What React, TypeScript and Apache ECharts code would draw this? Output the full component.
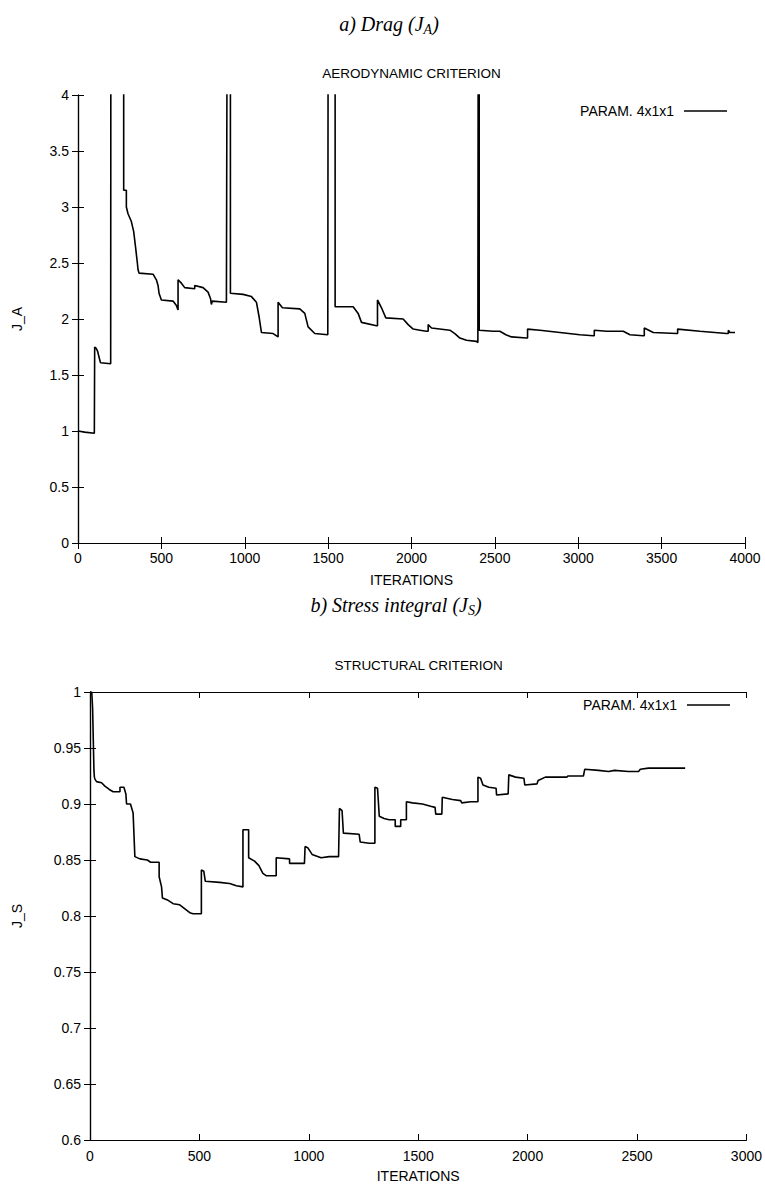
import React, { useEffect, useRef } from "react";
import * as echarts from "echarts";

// ---------- DATA ----------
const dragIterations = [
  0, 40, 98, 100, 108, 118, 126, 135, 196, 197, 274, 274, 290, 290, 300, 320, 334, 346, 356, 360, 366, 450, 470, 480, 486, 500, 570, 590, 600, 600, 620, 640, 700, 700, 750, 780, 795, 800, 805, 890, 894, 914, 914, 990, 1040, 1070, 1086, 1100, 1170, 1200, 1200, 1226, 1330, 1360, 1380, 1420, 1498, 1500, 1542, 1542, 1650, 1680, 1700, 1790, 1796, 1796, 1820, 1846, 1950, 1980, 2010, 2050, 2090, 2100, 2100, 2120, 2230, 2260, 2290, 2330, 2390, 2398, 2400, 2406, 2406, 2490, 2530, 2566, 2600, 2690, 2696, 2696, 2770, 2890, 3010, 3090, 3096, 3096, 3170, 3270, 3310, 3390, 3396, 3396, 3450, 3590, 3596, 3596, 3730, 3890, 3900, 3900, 3910, 3940,
];
const dragValues = [
  1.0, 0.99, 0.98, 1.75, 1.74, 1.71, 1.66, 1.61, 1.6, 4.6, 4.6, 3.15, 3.15, 3.0, 2.94, 2.87, 2.78, 2.63, 2.5, 2.44, 2.41, 2.4, 2.35, 2.3, 2.23, 2.17, 2.16, 2.12, 2.08, 2.35, 2.32, 2.28, 2.27, 2.3, 2.28, 2.24, 2.18, 2.13, 2.16, 2.15, 4.6, 4.6, 2.23, 2.22, 2.2, 2.15, 2.02, 1.88, 1.87, 1.84, 2.15, 2.1, 2.09, 2.05, 1.93, 1.87, 1.86, 4.6, 4.6, 2.11, 2.11, 2.05, 1.97, 1.94, 1.94, 2.17, 2.1, 2.01, 2.0, 1.95, 1.91, 1.9, 1.89, 1.89, 1.95, 1.92, 1.9, 1.87, 1.83, 1.81, 1.8, 1.79, 4.6, 4.6, 1.9, 1.89, 1.89, 1.86, 1.84, 1.83, 1.83, 1.91, 1.9, 1.88, 1.86, 1.85, 1.85, 1.9, 1.89, 1.89, 1.86, 1.85, 1.85, 1.92, 1.88, 1.87, 1.87, 1.91, 1.89, 1.87, 1.87, 1.9, 1.88, 1.88,
];

const stressIterations = [
  0, 8, 12, 18, 20, 23, 30, 53, 68, 88, 106, 137, 137, 155, 164, 167, 185, 197, 205, 228, 262, 277, 316, 316, 327, 331, 357, 380, 410, 456, 471, 509, 509, 520, 527, 592, 638, 669, 699, 699, 725, 725, 752, 772, 790, 805, 851, 851, 912, 912, 980, 983, 995, 1015, 1056, 1094, 1136, 1140, 1152, 1158, 1230, 1235, 1276, 1302, 1302, 1314, 1322, 1344, 1367, 1395, 1395, 1420, 1420, 1446, 1446, 1474, 1519, 1557, 1577, 1580, 1608, 1610, 1656, 1694, 1699, 1740, 1773, 1773, 1785, 1796, 1823, 1856, 1858, 1911, 1914, 1945, 1983, 1987, 2043, 2048, 2081, 2127, 2180, 2184, 2255, 2261, 2324, 2370, 2397, 2461, 2507, 2515, 2552, 2598, 2659, 2720,
];
const stressValues = [
  1.0, 1.0, 0.985, 0.93, 0.924, 0.922, 0.92, 0.919, 0.916, 0.913, 0.911, 0.911, 0.915, 0.915, 0.909, 0.9, 0.9, 0.892, 0.853, 0.851, 0.85, 0.848, 0.848, 0.835, 0.826, 0.816, 0.814, 0.811, 0.81, 0.803, 0.802, 0.802, 0.841, 0.84, 0.831, 0.83, 0.829, 0.827, 0.826, 0.877, 0.877, 0.852, 0.849, 0.845, 0.838, 0.836, 0.836, 0.852, 0.851, 0.847, 0.847, 0.862, 0.861, 0.855, 0.852, 0.853, 0.853, 0.896, 0.894, 0.874, 0.873, 0.866, 0.865, 0.865, 0.915, 0.914, 0.889, 0.887, 0.886, 0.886, 0.88, 0.88, 0.886, 0.886, 0.902, 0.901, 0.9, 0.898, 0.897, 0.891, 0.891, 0.906, 0.904, 0.903, 0.901, 0.902, 0.902, 0.924, 0.923, 0.917, 0.915, 0.914, 0.908, 0.909, 0.926, 0.924, 0.923, 0.917, 0.918, 0.921, 0.924, 0.924, 0.924, 0.925, 0.925, 0.931, 0.93, 0.929, 0.93, 0.929, 0.929, 0.931, 0.932, 0.932, 0.932, 0.932,
];

const seriesName = "PARAM. 4x1x1";
const topTitle = "AERODYNAMIC CRITERION";
const bottomTitle = "STRUCTURAL CRITERION";
const xName = "ITERATIONS";
const topYName = "J_A";
const bottomYName = "J_S";

// ---------- LAYOUT ----------
const W = 765;
const H = 1184;
const SANS = "Liberation Sans, Arial, sans-serif";
const SERIF = "Liberation Serif, Times New Roman, serif";
const G0 = { left: 78, right: 745, top: 95, bottom: 543 };
const G1 = { left: 90, right: 747, top: 692, bottom: 1140 };

function pairs(xs: number[], ys: number[]) {
  return xs.map((x, i) => [x, ys[i]]);
}

const plainNumber = (v: number) => String(v);

function xAxes(grid: number, max: number, gap: number, margin: number) {
  const base = {
    gridIndex: grid,
    type: "value",
    min: 0,
    max,
    interval: 500,
    axisLine: { show: true, lineStyle: { color: "#000", width: 1.2 } },
    axisTick: { show: true, inside: true, length: 6, lineStyle: { color: "#000", width: 1 } },
    splitLine: { show: false },
  };
  return [
    {
      ...base,
      position: "bottom",
      axisLabel: { color: "#000", fontSize: 14, fontFamily: SANS, margin, formatter: plainNumber },
      name: xName,
      nameLocation: "middle",
      nameGap: gap,
      nameTextStyle: { color: "#000", fontSize: 14, fontFamily: SANS },
    },
    { ...base, position: "top", axisLabel: { show: false } },
  ];
}

function yAxes(grid: number, min: number, max: number, interval: number, name: string, gap: number) {
  const base = {
    gridIndex: grid,
    type: "value",
    min,
    max,
    interval,
    axisLine: { show: true, lineStyle: { color: "#000", width: 1.2 } },
    axisTick: { show: true, inside: true, length: 6, lineStyle: { color: "#000", width: 1 } },
    splitLine: { show: false },
  };
  return [
    {
      ...base,
      position: "left",
      axisLabel: { color: "#000", fontSize: 14, fontFamily: SANS, margin: 9, formatter: plainNumber },
      name,
      nameLocation: "middle",
      nameGap: gap,
      nameTextStyle: { color: "#000", fontSize: 14, fontFamily: SANS },
    },
    { ...base, position: "right", axisLabel: { show: false } },
  ];
}

function legendGraphic(y: number, lineX1: number, lineX2: number) {
  return [
    {
      type: "text",
      x: lineX1 - 10,
      y,
      style: {
        text: seriesName,
        fill: "#000",
        font: `14px ${SANS}`,
        textAlign: "right",
        textVerticalAlign: "middle",
        align: "right",
        verticalAlign: "middle",
      },
    },
    {
      type: "line",
      shape: { x1: lineX1, y1: y, x2: lineX2, y2: y },
      style: { stroke: "#000", lineWidth: 1.6 },
    },
  ];
}

function captionGraphic(x: number, y: number, main: string, sub: string) {
  return {
    type: "text",
    x,
    y,
    style: {
      text: `{i|${main}}{s|${sub}}{i|)}`,
      rich: {
        i: { fontFamily: SERIF, fontStyle: "italic", fontSize: 20, fill: "#000", color: "#000" },
        s: { fontFamily: SERIF, fontStyle: "italic", fontSize: 14, fill: "#000", color: "#000", padding: [10, 0, 0, 0] },
      },
      textAlign: "center",
      textVerticalAlign: "middle",
      align: "center",
      verticalAlign: "middle",
    },
  };
}

function titleGraphic(x: number, y: number, text: string) {
  return {
    type: "text",
    x,
    y,
    style: {
      text,
      fill: "#000",
      font: `13.5px ${SANS}`,
      textAlign: "center",
      textVerticalAlign: "middle",
      align: "center",
      verticalAlign: "middle",
    },
  };
}

export default function App() {
  const ref = useRef<HTMLDivElement>(null);

  useEffect(() => {
    document.body.style.margin = "0";
    if (!ref.current) return;
    const chart = echarts.init(ref.current, null, { renderer: "svg" });
    const lineStyle = { color: "#000", width: 1.6 };
    chart.setOption({
      animation: false,
      backgroundColor: "#fff",
      grid: [
        { left: G0.left, right: W - G0.right, top: G0.top, height: G0.bottom - G0.top, containLabel: false },
        { left: G1.left, right: W - G1.right, top: G1.top, height: G1.bottom - G1.top, containLabel: false },
      ],
      xAxis: [...xAxes(0, 4000, 30, 8), ...xAxes(1, 3000, 29, 9)],
      yAxis: [...yAxes(0, 0, 4, 0.5, topYName, 54), ...yAxes(1, 0.6, 1, 0.05, bottomYName, 66)],
      series: [
        {
          name: seriesName,
          type: "line",
          xAxisIndex: 0,
          yAxisIndex: 0,
          data: pairs(dragIterations, dragValues),
          symbol: "none",
          showSymbol: false,
          clip: true,
          lineStyle,
          itemStyle: { color: "#000" },
        },
        {
          name: seriesName,
          type: "line",
          xAxisIndex: 2,
          yAxisIndex: 2,
          data: pairs(stressIterations, stressValues),
          symbol: "none",
          showSymbol: false,
          clip: true,
          lineStyle,
          itemStyle: { color: "#000" },
        },
      ],
      graphic: [
        captionGraphic(389, 24, "a) Drag (J", "A"),
        titleGraphic((G0.left + G0.right) / 2, 73, topTitle),
        ...legendGraphic(111, 684, 727),
        captionGraphic(396, 605, "b) Stress integral (J", "S"),
        titleGraphic((G1.left + G1.right) / 2, 665, bottomTitle),
        ...legendGraphic(705, 687, 730),
      ],
    });
    return () => chart.dispose();
  }, []);

  return <div ref={ref} style={{ width: W, height: H }} />;
}
